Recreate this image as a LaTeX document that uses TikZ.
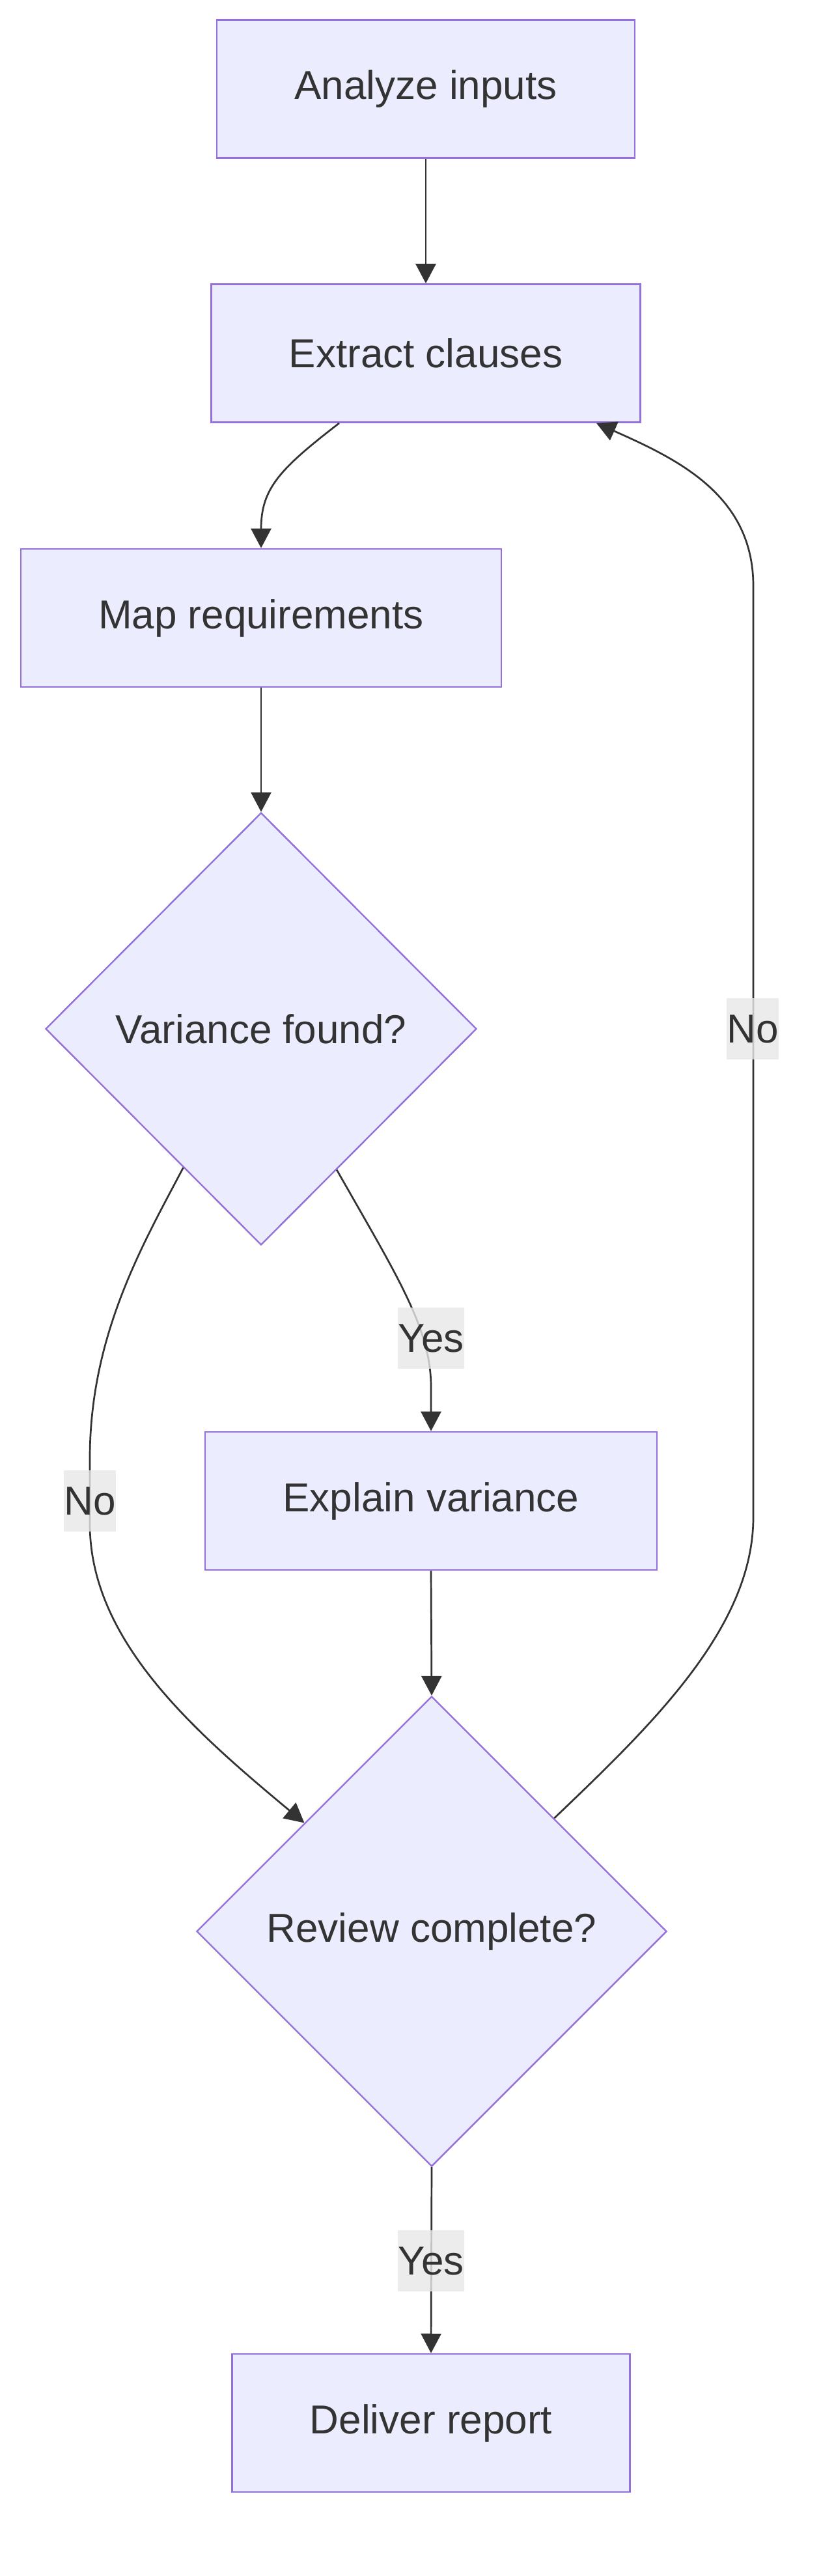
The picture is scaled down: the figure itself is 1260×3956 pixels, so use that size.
\documentclass[tikz,border=0pt]{standalone}
\usepackage{fontspec}
\setmainfont{Liberation Sans}
\usetikzlibrary{arrows.meta,shapes.geometric,calc}
\definecolor{nodefill}{HTML}{ECECFF}
\definecolor{nodeline}{HTML}{9370DB}
\definecolor{ink}{HTML}{333333}
\definecolor{lblbg}{HTML}{E8E8E8}
\begin{document}
\begin{tikzpicture}[x=0.5pt,y=-0.5pt,
  txt/.style={text=ink, font=\fontsize{31}{37}\selectfont},
  box/.style={txt, rectangle, draw=nodeline, fill=nodefill, line width=1.3pt, minimum height=106pt, inner sep=0pt},
  dec/.style={txt, diamond, aspect=1, draw=nodeline, fill=nodefill, line width=1.2pt, inner sep=0pt},
  edge/.style={draw=ink, line width=1.35pt, -{Triangle[length=15pt,width=15.5pt]}},
  lbl/.style={txt, fill=lblbg, fill opacity=0.8, text opacity=1, inner xsep=0pt, inner ysep=0pt, minimum height=47pt}
]
\useasboundingbox (0,0) rectangle (1260,3956);
\fill[white] (0,0) rectangle (1260,3956);

% nodes
\node[box, minimum width=321pt] (a) at (654,136.5) {Analyze inputs};
\node[box, minimum width=329.5pt] (b) at (654,542.5) {Extract clauses};
\node[box, minimum width=369pt] (c) at (401,949) {Map requirements};
\node[dec, minimum width=331pt, minimum height=332pt] (d) at (401,1580) {Variance found?};
\node[box, minimum width=347pt] (e) at (662,2305) {Explain variance};
\node[dec, minimum width=361pt, minimum height=361pt] (f) at (663,2966) {Review complete?};
\node[box, minimum width=305.5pt] (g) at (662,3721) {Deliver report};

% connector end points
\coordinate (bs) at ([xshift=-66.5pt]b.south);
\coordinate (bt) at ([xshift=131pt]b.south);
\coordinate (dr) at ($(d.south)!0.35!(d.east)$);
\coordinate (dl) at ($(d.south)!0.36!(d.west)$);
\coordinate (fl) at ($(f.west)!0.46!(f.north)$);
\coordinate (fr) at ($(f.north)!0.52!(f.east)$);

% connectors
\draw[edge] (a.south) -- (b.north);
\draw[edge] (bs) .. controls (430,720) and (401,750) .. (c.north);
\draw[edge] (c.south) -- (d.north);
\draw[edge] (dr) .. controls (610,1960) and (662,2040) .. (662,2130) -- (e.north);
\draw[edge] (dl) .. controls (220,1910) and (138,2050) .. (138,2240) -- (138,2340)
  .. controls (138,2520) and (300,2660) .. (fl);
\draw[edge] (e.south) -- (f.north);
\draw[edge] (f.south) -- (g.north);
\draw[edge] (fr) .. controls (1000,2650) and (1157,2500) .. (1157,2330) -- (1157,900)
  .. controls (1157,760) and (1040,705) .. (bt);

% edge labels
\node[lbl] (l1) at (1156,1580) {No};
\node[lbl] (l2) at (662,2055) {Yes};
\node[lbl] (l3) at (138,2305) {No};
\node[lbl] (l4) at (662,3472) {Yes};
\end{tikzpicture}
\end{document}
